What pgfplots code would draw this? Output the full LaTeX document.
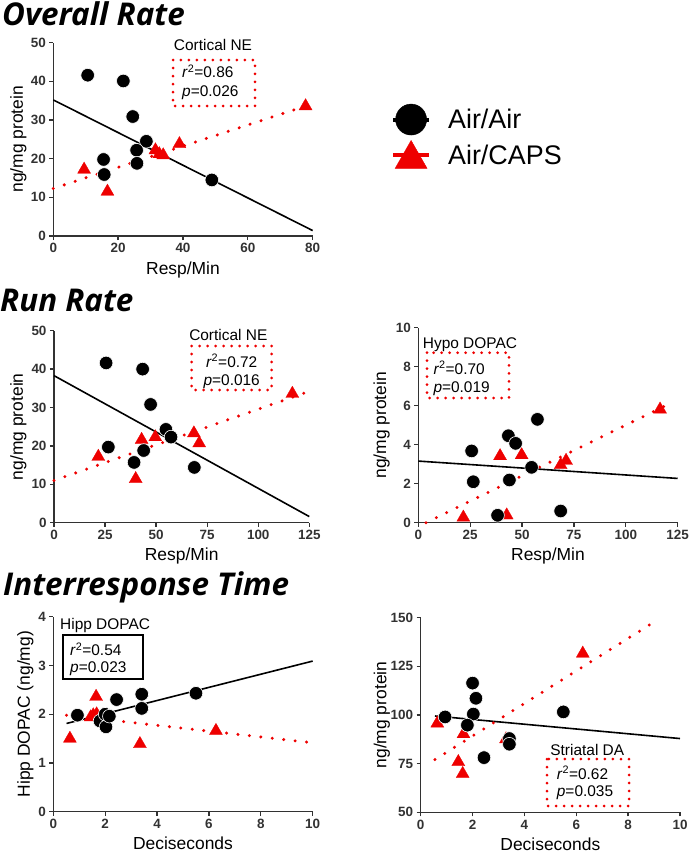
\documentclass[border=0pt]{standalone}
\usepackage{fontspec}
\setmainfont{Liberation Sans}
\newfontfamily\titlefont{Open Sans}
\usepackage{pgfplots}
\pgfplotsset{compat=1.18}
\definecolor{gpred}{RGB}{238,0,0}
\definecolor{axgray}{RGB}{50,50,50}
\pgfplotsset{
  gp/.style={
    scale only axis, axis lines*=left, clip=false,
    tick align=outside, major tick length=4bp,
    axis line style={line width=1.3bp, axgray},
    every tick/.style={line width=1.3bp, axgray},
    /pgf/number format/assume math mode=true,
    xticklabel={\bfseries\fontsize{13.5}{15}\selectfont\pgfmathprintnumber{\tick}},
    yticklabel={\bfseries\fontsize{13.5}{15}\selectfont\pgfmathprintnumber{\tick}},
    tick label style={text=axgray},
    label style={font=\fontsize{17.5}{20}\selectfont},
    xlabel style={at={(axis description cs:0.5,0)}, anchor=base, yshift=-38bp},
  },
  blk/.style={only marks, mark=*, mark size=6.8bp, mark options={fill=black, draw=white, line width=0.6bp}},
  redm/.style={only marks, mark=triangle*, mark size=7.5bp, mark options={fill=gpred, draw=gpred, line width=0.3bp}},
  blkfit/.style={black, line width=1.6bp, no marks},
  redfit/.style={gpred, line width=3.3bp, line cap=round, dash pattern=on 0bp off 11.5bp, no marks},
}
\begin{document}
\begin{tikzpicture}
\path[use as bounding box] (0,0) rectangle (689bp,-853bp);

% ---------- Panel 1: Overall Rate, Cortical NE ----------
\begin{axis}[gp, at={(53.3bp,-236bp)}, anchor=south west,
  width=259.4bp, height=193.3bp,
  xmin=0, xmax=80, ymin=0, ymax=50,
  xtick={0,20,40,60,80}, ytick={0,10,20,30,40,50},
  xlabel={Resp/Min}, ylabel={ng/mg protein},
  ylabel style={at={(axis description cs:-0.135,0.5)}, anchor=center},
  legend style={at={(axis description cs:1.29,0.695)}, anchor=north west, draw=none, fill=none,
    font=\fontsize{27}{30}\selectfont, row sep=5bp, cells={anchor=west}},
]
\addplot[blkfit, forget plot] coordinates {(0,35.2) (80,1.4)};
\addplot[redfit, forget plot] coordinates {(0,12.3) (77.8,33.6)};
\addplot[redm, forget plot] coordinates {(9.5,17.2) (16.7,11.5) (31.5,22.2) (32.7,21.2) (33.9,20.9) (38.9,23.8) (77.8,33.6)};
\addplot[blk, forget plot] coordinates {(10.6,41.6) (21.6,40.1) (24.5,30.9) (28.7,24.5) (25.7,22.2) (25.8,18.8) (15.5,19.8) (15.7,15.9) (48.9,14.5)};
\addlegendimage{legend image code/.code={\draw[black,line width=4bp] (0bp,0bp)--(36bp,0bp); \fill[black] (18bp,0bp) circle (15.5bp);}}
\addlegendentry{\hspace{15bp}Air/Air}
\addlegendimage{legend image code/.code={\draw[gpred,line width=4bp] (0bp,0bp)--(36bp,0bp); \fill[gpred] (18bp,15bp)--(2bp,-13bp)--(34bp,-13bp)--cycle;}}
\addlegendentry{\hspace{15bp}Air/CAPS}
\end{axis}

% ---------- Panel 2: Run Rate, Cortical NE ----------
\begin{axis}[gp, at={(54bp,-522.7bp)}, anchor=south west,
  width=255.3bp, height=192bp,
  xmin=0, xmax=125, ymin=0, ymax=50,
  xtick={0,25,50,75,100,125}, ytick={0,10,20,30,40,50},
  xlabel={Resp/Min}, ylabel={ng/mg protein},
  ylabel style={at={(axis description cs:-0.14,0.5)}, anchor=center},
]
\addplot[blkfit] coordinates {(0,38.3) (125,1.6)};
\addplot[redfit] coordinates {(0,11.0) (125,34.2)};
\addplot[redm] coordinates {(21.7,17.2) (40.0,11.4) (42.9,21.6) (49.6,22.3) (68.5,23.3) (71.1,20.7) (116.7,33.6)};
\addplot[blk] coordinates {(25.5,41.6) (43.4,40.0) (47.3,30.8) (54.8,24.3) (57.3,22.3) (26.6,19.7) (43.9,18.8) (39.2,15.7) (68.7,14.4)};
\end{axis}

% ---------- Panel 3: Run Rate, Hypo DOPAC ----------
\begin{axis}[gp, at={(418.3bp,-522.7bp)}, anchor=south west,
  width=259.4bp, height=195bp,
  xmin=0, xmax=125, ymin=0, ymax=10,
  xtick={0,25,50,75,100,125}, ytick={0,2,4,6,8,10},
  xlabel={Resp/Min}, ylabel={ng/mg protein},
  ylabel style={at={(axis description cs:-0.141,0.5)}, anchor=center},
]
\addplot[blkfit] coordinates {(0,3.16) (125,2.27)};
\addplot[redfit] coordinates {(3.7,0) (122,6.15)};
\addplot[redm] coordinates {(21.7,0.27) (39.4,3.42) (42.6,0.38) (49.8,3.47) (68.6,2.96) (71.2,3.18) (116.5,5.81)};
\addplot[blk] coordinates {(25.7,3.68) (26.5,2.10) (43.4,4.46) (46.9,4.07) (57.4,5.30) (54.6,2.84) (43.9,2.19) (38.2,0.38) (68.6,0.60)};
\end{axis}

% ---------- Panel 4: Interresponse Time, Hipp DOPAC ----------
\begin{axis}[gp, at={(53.3bp,-811.7bp)}, anchor=south west,
  width=259.4bp, height=195bp,
  xmin=0, xmax=10, ymin=0, ymax=4,
  xtick={0,2,4,6,8,10}, ytick={0,1,2,3,4},
  xlabel={Deciseconds}, ylabel={Hipp DOPAC (ng/mg)},
  ylabel style={at={(axis description cs:-0.108,0.5)}, anchor=center},
]
\addplot[blkfit] coordinates {(0.51,1.81) (10,3.09)};
\addplot[redfit] coordinates {(0.51,1.98) (9.9,1.42)};
\addplot[redm] coordinates {(0.64,1.50) (1.65,2.36) (1.44,1.94) (1.54,1.98) (1.67,2.0) (3.34,1.39) (6.27,1.66)};
\addplot[blk] coordinates {(0.93,1.98) (1.80,1.86) (2.0,2.0) (2.03,1.74) (2.16,1.96) (2.44,2.30) (3.41,2.41) (3.41,2.12) (5.50,2.43)};
\end{axis}

% ---------- Panel 5: Interresponse Time, Striatal DA ----------
\begin{axis}[gp, at={(420.7bp,-812.3bp)}, anchor=south west,
  width=259.3bp, height=194.6bp,
  xmin=0, xmax=10, ymin=50, ymax=150,
  xtick={0,2,4,6,8,10}, ytick={50,75,100,125,150},
  xlabel={Deciseconds}, ylabel={ng/mg protein},
  ylabel style={at={(axis description cs:-0.15,0.5)}, anchor=center},
]
\addplot[blkfit] coordinates {(0.55,99.5) (10,87.9)};
\addplot[redfit] coordinates {(0.55,77.1) (9.16,149.1)};
\addplot[redm] coordinates {(0.64,95.7) (1.65,90.2) (1.45,75.9) (1.62,69.8) (3.29,87.6) (6.25,131.6)};
\addplot[blk] coordinates {(0.94,99) (2.0,116.4) (2.13,108.6) (2.03,100.5) (1.8,94.8) (2.44,78.1) (3.42,87.9) (3.42,85.0) (5.5,101.6)};
\end{axis}

% ---------- Titles and annotations ----------
\begin{scope}[x=1bp,y=-1bp]
\tikzset{ann/.style={font=\fontsize{15.5}{18}\selectfont, inner sep=0pt},
         ttl/.style={font=\fontsize{31.5}{36}\selectfont\titlefont\bfseries\itshape, inner sep=0pt, anchor=base west},
         rbox/.style={gpred, line width=3bp, line cap=round, dash pattern=on 0bp off 8bp}}
\node[ttl] at (2,25) {Overall Rate};
\node[ttl] at (0,311.7) {Run Rate};
\node[ttl] at (3,595) {Interresponse Time};

% panel 1
\node[ann, anchor=base] at (213,50.5) {Cortical NE};
\draw[rbox] (173,60) rectangle (255,106);
\node[ann, anchor=base west] at (182,77.5) {\textit{r}\textsuperscript{2}=0.86};
\node[ann, anchor=base west] at (182,96) {\textit{p}=0.026};
% panel 2
\node[ann, anchor=base] at (228.3,340.5) {Cortical NE};
\draw[rbox] (191.7,346) rectangle (271.7,390);
\node[ann, anchor=base] at (231.7,367) {\textit{r}\textsuperscript{2}=0.72};
\node[ann, anchor=base] at (231.7,385.5) {\textit{p}=0.016};
% panel 3
\node[ann, anchor=base west] at (422.7,348.5) {Hypo DOPAC};
\draw[rbox] (427,352.7) rectangle (509,398);
\node[ann, anchor=base west] at (433.3,374) {\textit{r}\textsuperscript{2}=0.70};
\node[ann, anchor=base west] at (433.3,392) {\textit{p}=0.019};
% panel 4
\node[ann, anchor=base west] at (60,629) {Hipp DOPAC};
\draw[black, line width=1.3bp] (63,635) rectangle (143,679);
\node[ann, anchor=base west] at (70,655.5) {\textit{r}\textsuperscript{2}=0.54};
\node[ann, anchor=base west] at (70,672) {\textit{p}=0.023};
% panel 5
\node[ann, anchor=base] at (587.3,755.5) {Striatal DA};
\draw[rbox] (547,759) rectangle (629,806);
\node[ann, anchor=base west] at (556.7,779) {\textit{r}\textsuperscript{2}=0.62};
\node[ann, anchor=base west] at (556.7,796) {\textit{p}=0.035};
\end{scope}
\end{tikzpicture}
\end{document}
